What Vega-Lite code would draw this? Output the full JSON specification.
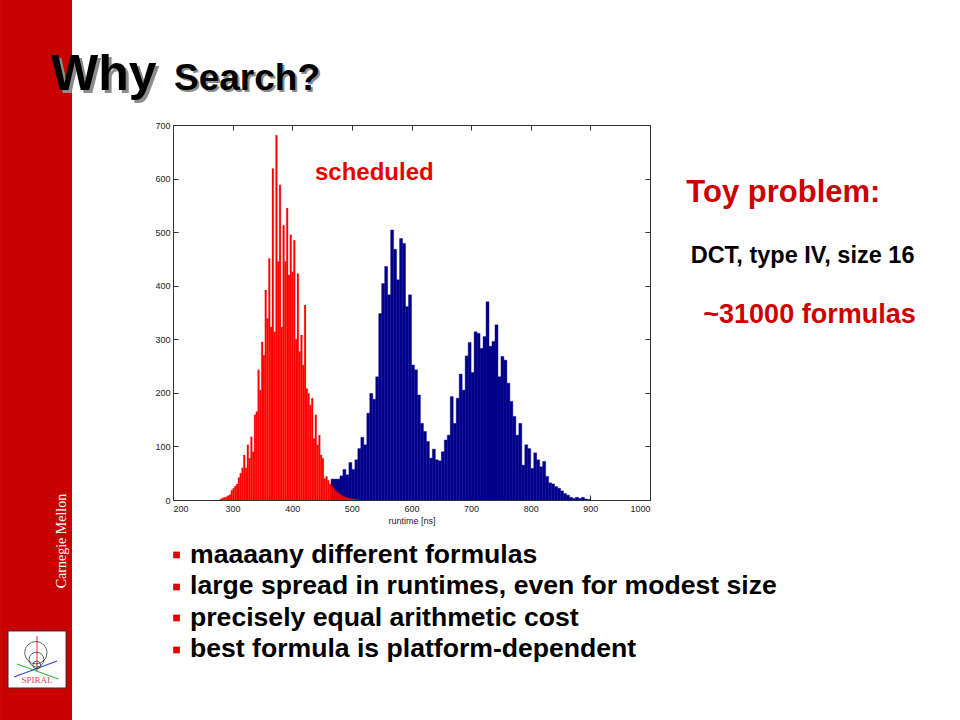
{
  "$schema": "https://vega.github.io/schema/vega-lite/v6.json",
  "width": 477,
  "height": 375,
  "autosize": "none",
  "padding": {"left": 173, "top": 125, "right": 310, "bottom": 220},
  "background": "white",
  "config": {
    "view": {"stroke": "#333333", "strokeWidth": 1},
    "axis": {"labelFont": "Liberation Sans", "labelFontSize": 9, "labelColor": "#222222", "tickColor": "#333333", "domain": false, "grid": false, "tickSize": -5, "titleFont": "Liberation Sans", "titleFontSize": 9, "titleFontWeight": "normal", "titleColor": "#222222"},
    "text": {"font": "Liberation Sans", "fontWeight": "bold", "align": "left", "baseline": "alphabetic"}
  },
  "datasets": {
    "blue": [
      {"lo":465,"hi":470,"n":39},{"lo":470,"hi":475,"n":39},{"lo":475,"hi":480,"n":39},{"lo":480,"hi":485,"n":45},{"lo":485,"hi":490,"n":57},{"lo":490,"hi":495,"n":47},{"lo":495,"hi":500,"n":70},{"lo":500,"hi":505,"n":57},{"lo":505,"hi":510,"n":75},{"lo":510,"hi":515,"n":96},{"lo":515,"hi":520,"n":117},{"lo":520,"hi":525,"n":103},{"lo":525,"hi":530,"n":162},{"lo":530,"hi":535,"n":199},{"lo":535,"hi":540,"n":188},{"lo":540,"hi":545,"n":230},{"lo":545,"hi":550,"n":348},{"lo":550,"hi":555,"n":404},{"lo":555,"hi":560,"n":436},{"lo":560,"hi":565,"n":383},{"lo":565,"hi":570,"n":504},{"lo":570,"hi":575,"n":468},{"lo":575,"hi":580,"n":411},{"lo":580,"hi":585,"n":488},{"lo":585,"hi":590,"n":479},{"lo":590,"hi":595,"n":361},{"lo":595,"hi":600,"n":383},{"lo":600,"hi":605,"n":252},{"lo":605,"hi":610,"n":243},{"lo":610,"hi":615,"n":196},{"lo":615,"hi":620,"n":143},{"lo":620,"hi":625,"n":128},{"lo":625,"hi":630,"n":109},{"lo":630,"hi":635,"n":78},{"lo":635,"hi":640,"n":95},{"lo":640,"hi":645,"n":75},{"lo":645,"hi":650,"n":73},{"lo":650,"hi":655,"n":90},{"lo":655,"hi":660,"n":112},{"lo":660,"hi":665,"n":121},{"lo":665,"hi":670,"n":193},{"lo":670,"hi":675,"n":143},{"lo":675,"hi":680,"n":190},{"lo":680,"hi":685,"n":235},{"lo":685,"hi":690,"n":205},{"lo":690,"hi":695,"n":269},{"lo":695,"hi":700,"n":294},{"lo":700,"hi":705,"n":238},{"lo":705,"hi":710,"n":314},{"lo":710,"hi":715,"n":311},{"lo":715,"hi":720,"n":283},{"lo":720,"hi":725,"n":305},{"lo":725,"hi":730,"n":370},{"lo":730,"hi":735,"n":287},{"lo":735,"hi":740,"n":296},{"lo":740,"hi":745,"n":327},{"lo":745,"hi":750,"n":230},{"lo":750,"hi":755,"n":268},{"lo":755,"hi":760,"n":261},{"lo":760,"hi":765,"n":218},{"lo":765,"hi":770,"n":184},{"lo":770,"hi":775,"n":156},{"lo":775,"hi":780,"n":121},{"lo":780,"hi":785,"n":143},{"lo":785,"hi":790,"n":65},{"lo":790,"hi":795,"n":103},{"lo":795,"hi":800,"n":96},{"lo":800,"hi":805,"n":59},{"lo":805,"hi":810,"n":88},{"lo":810,"hi":815,"n":75},{"lo":815,"hi":820,"n":62},{"lo":820,"hi":825,"n":72},{"lo":825,"hi":830,"n":44},{"lo":830,"hi":835,"n":32},{"lo":835,"hi":840,"n":30},{"lo":840,"hi":845,"n":25},{"lo":845,"hi":850,"n":22},{"lo":850,"hi":855,"n":17},{"lo":855,"hi":860,"n":12},{"lo":860,"hi":865,"n":9},{"lo":865,"hi":870,"n":5},{"lo":870,"hi":875,"n":3},{"lo":875,"hi":880,"n":5},{"lo":880,"hi":885,"n":3},{"lo":885,"hi":890,"n":5},{"lo":890,"hi":895,"n":2},{"lo":895,"hi":900,"n":1}
    ],
    "red": [
      {"lo":279,"hi":282,"n":2},{"lo":282,"hi":285,"n":4},{"lo":285,"hi":288,"n":5},{"lo":288,"hi":291,"n":6},{"lo":291,"hi":294,"n":8},{"lo":294,"hi":297,"n":10},{"lo":297,"hi":300,"n":18},{"lo":300,"hi":303,"n":22},{"lo":303,"hi":306,"n":26},{"lo":306,"hi":309,"n":30},{"lo":309,"hi":312,"n":42},{"lo":312,"hi":315,"n":50},{"lo":315,"hi":318,"n":60},{"lo":318,"hi":321,"n":84},{"lo":321,"hi":324,"n":60},{"lo":324,"hi":327,"n":103},{"lo":327,"hi":330,"n":78},{"lo":330,"hi":333,"n":118},{"lo":333,"hi":336,"n":90},{"lo":336,"hi":339,"n":159},{"lo":339,"hi":342,"n":165},{"lo":342,"hi":345,"n":243},{"lo":345,"hi":348,"n":205},{"lo":348,"hi":351,"n":295},{"lo":351,"hi":354,"n":270},{"lo":354,"hi":357,"n":392},{"lo":357,"hi":360,"n":339},{"lo":360,"hi":363,"n":451},{"lo":363,"hi":366,"n":323},{"lo":366,"hi":369,"n":619},{"lo":369,"hi":372,"n":314},{"lo":372,"hi":375,"n":681},{"lo":375,"hi":378,"n":445},{"lo":378,"hi":381,"n":588},{"lo":381,"hi":384,"n":323},{"lo":384,"hi":387,"n":513},{"lo":387,"hi":390,"n":445},{"lo":390,"hi":393,"n":545},{"lo":393,"hi":396,"n":420},{"lo":396,"hi":399,"n":495},{"lo":399,"hi":402,"n":426},{"lo":402,"hi":405,"n":485},{"lo":405,"hi":408,"n":300},{"lo":408,"hi":411,"n":423},{"lo":411,"hi":414,"n":277},{"lo":414,"hi":417,"n":308},{"lo":417,"hi":420,"n":252},{"lo":420,"hi":423,"n":364},{"lo":423,"hi":426,"n":208},{"lo":426,"hi":429,"n":199},{"lo":429,"hi":432,"n":177},{"lo":432,"hi":435,"n":190},{"lo":435,"hi":438,"n":115},{"lo":438,"hi":441,"n":159},{"lo":441,"hi":444,"n":103},{"lo":444,"hi":447,"n":121},{"lo":447,"hi":450,"n":84},{"lo":450,"hi":453,"n":78},{"lo":453,"hi":456,"n":40},{"lo":456,"hi":459,"n":44},{"lo":459,"hi":462,"n":37},{"lo":462,"hi":465,"n":30},{"lo":465,"hi":468,"n":26},{"lo":468,"hi":471,"n":22},{"lo":471,"hi":474,"n":18},{"lo":474,"hi":477,"n":15},{"lo":477,"hi":480,"n":12},{"lo":480,"hi":483,"n":10},{"lo":483,"hi":486,"n":8},{"lo":486,"hi":489,"n":6},{"lo":489,"hi":492,"n":5},{"lo":492,"hi":495,"n":4},{"lo":495,"hi":498,"n":3},{"lo":498,"hi":501,"n":2},{"lo":501,"hi":504,"n":2},{"lo":504,"hi":507,"n":1},{"lo":507,"hi":510,"n":1}
    ]
  },
  "layer": [
    {
      "data": {"values": [{}]},
      "mark": {"type": "rect", "color": "#c80000"},
      "encoding": {"x": {"datum": -90.1, "axis": null}, "x2": {"datum": 30.6}, "y": {"datum": 933.3, "axis": null}, "y2": {"datum": -410.7}}
    },
    {
      "data": {"values": [{}]},
      "mark": {"type": "text", "text": "Carnegie Mellon", "font": "Liberation Serif", "fontWeight": "normal", "fontSize": 14, "color": "white", "angle": 270, "align": "center", "baseline": "middle"},
      "encoding": {"x": {"datum": 13.8, "axis": null}, "y": {"datum": -76.5, "axis": null}}
    },
    {
      "data": {"values": [{}]},
      "mark": {"type": "rect", "fill": "white", "stroke": "#333333", "strokeWidth": 1},
      "encoding": {"x": {"datum": -76.7, "axis": null}, "x2": {"datum": 20.6}, "y": {"datum": -244.5, "axis": null}, "y2": {"datum": -350.9}}
    },
    {
      "data": {"values": [{}]},
      "mark": {"type": "rule", "color": "#e03040", "strokeWidth": 1},
      "encoding": {"x": {"datum": -28.1, "axis": null}, "y": {"datum": -253.9, "axis": null}, "y2": {"datum": -321.1}}
    },
    {
      "data": {"values": [{}]},
      "mark": {"type": "rule", "color": "#30c040", "strokeWidth": 1.2},
      "encoding": {"x": {"datum": -61.6, "axis": null}, "x2": {"datum": 8.0}, "y": {"datum": -306.1, "axis": null}, "y2": {"datum": -334.1}}
    },
    {
      "data": {"values": [{}]},
      "mark": {"type": "rule", "color": "#3040d0", "strokeWidth": 1.2},
      "encoding": {"x": {"datum": -66.6, "axis": null}, "x2": {"datum": 5.5}, "y": {"datum": -330.4, "axis": null}, "y2": {"datum": -300.5}}
    },
    {
      "data": {"values": [{}]},
      "mark": {"type": "point", "shape": "circle", "filled": false, "color": "#222222", "size": 500, "strokeWidth": 1},
      "encoding": {"x": {"datum": -30.0, "axis": null}, "y": {"datum": -285.0, "axis": null}}
    },
    {
      "data": {"values": [{}]},
      "mark": {"type": "point", "shape": "circle", "filled": false, "color": "#222222", "size": 220, "strokeWidth": 1},
      "encoding": {"x": {"datum": -29.0, "axis": null}, "y": {"datum": -298.0, "axis": null}}
    },
    {
      "data": {"values": [{}]},
      "mark": {"type": "point", "shape": "circle", "filled": false, "color": "#222222", "size": 60, "strokeWidth": 1},
      "encoding": {"x": {"datum": -28.5, "axis": null}, "y": {"datum": -308.0, "axis": null}}
    },
    {
      "data": {"values": [{}]},
      "mark": {"type": "text", "text": "SPIRAL", "font": "Liberation Serif", "fontWeight": "normal", "fontSize": 9, "color": "#e0405a", "align": "center"},
      "encoding": {"x": {"datum": -28.1, "axis": null}, "y": {"datum": -341.6, "axis": null}}
    },
    {
      "data": {"name": "blue"},
      "mark": {"type": "bar", "color": "#00008b", "stroke": "#00008b", "strokeWidth": 0.4},
      "encoding": {
        "x": {"field": "lo", "type": "quantitative", "scale": {"domain": [200, 1000], "nice": false, "zero": false}, "axis": {"orient": "bottom", "values": [200,300,400,500,600,700,800,900,1000], "format": "d", "title": "runtime [ns]", "labelPadding": 9, "titlePadding": 3}},
        "x2": {"field": "hi"},
        "y": {"field": "n", "type": "quantitative", "scale": {"domain": [0, 700], "nice": false}, "axis": {"orient": "left", "values": [0,100,200,300,400,500,600,700], "format": "d", "title": null, "labelPadding": 8}},
        "y2": {"datum": 0}
      }
    },
    {
      "data": {"name": "red"},
      "mark": {"type": "bar", "color": "#ff0000", "stroke": "#ff0000", "strokeWidth": 0.2},
      "encoding": {
        "x": {"field": "lo", "type": "quantitative", "axis": {"orient": "top", "values": [200,300,400,500,600,700,800,900,1000], "labels": false, "title": null}},
        "x2": {"field": "hi"},
        "y": {"field": "n", "type": "quantitative", "axis": {"orient": "right", "values": [0,100,200,300,400,500,600,700], "labels": false, "title": null}},
        "y2": {"datum": 0}
      }
    },
    {
      "data": {"values": [{}]},
      "mark": {"type": "text", "text": "scheduled", "fontSize": 24, "color": "#e60000"},
      "encoding": {"x": {"datum": 438.1, "axis": null}, "y": {"datum": 597.3, "axis": null}}
    },
    {
      "data": {"values": [{}]},
      "mark": {"type": "text", "text": "Why", "fontSize": 50, "color": "#8c8c8c", "dx": 3, "dy": 3},
      "encoding": {"x": {"datum": -4.6, "axis": null}, "y": {"datum": 765.3, "axis": null}}
    },
    {
      "data": {"values": [{}]},
      "mark": {"type": "text", "text": "Why", "fontSize": 50, "color": "#000000"},
      "encoding": {"x": {"datum": -4.6, "axis": null}, "y": {"datum": 765.3, "axis": null}}
    },
    {
      "data": {"values": [{}]},
      "mark": {"type": "text", "text": "Search?", "fontSize": 37, "color": "#8c8c8c", "dx": 2, "dy": 2},
      "encoding": {"x": {"datum": 201.7, "axis": null}, "y": {"datum": 765.3, "axis": null}}
    },
    {
      "data": {"values": [{}]},
      "mark": {"type": "text", "text": "Search?", "fontSize": 37, "color": "#000000"},
      "encoding": {"x": {"datum": 201.7, "axis": null}, "y": {"datum": 765.3, "axis": null}}
    },
    {
      "data": {"values": [{}]},
      "mark": {"type": "text", "text": "Toy problem:", "fontSize": 31, "color": "#cc0000"},
      "encoding": {"x": {"datum": 1061.0, "axis": null}, "y": {"datum": 556.8, "axis": null}}
    },
    {
      "data": {"values": [{}]},
      "mark": {"type": "text", "text": "DCT, type IV, size 16", "fontSize": 23.5, "color": "#000000"},
      "encoding": {"x": {"datum": 1068.2, "axis": null}, "y": {"datum": 442.0, "axis": null}}
    },
    {
      "data": {"values": [{}]},
      "mark": {"type": "text", "text": "~31000 formulas", "fontSize": 27, "color": "#cc0000"},
      "encoding": {"x": {"datum": 1089.4, "axis": null}, "y": {"datum": 331.0, "axis": null}}
    },
    {
      "data": {"values": [{}]},
      "mark": {"type": "point", "shape": "square", "filled": true, "color": "#e00000", "size": 45, "opacity": 1},
      "encoding": {"x": {"datum": 205.9, "axis": null}, "y": {"datum": -102.6, "axis": null}}
    },
    {
      "data": {"values": [{}]},
      "mark": {"type": "point", "shape": "square", "filled": true, "color": "#e00000", "size": 45, "opacity": 1},
      "encoding": {"x": {"datum": 205.9, "axis": null}, "y": {"datum": -162.4, "axis": null}}
    },
    {
      "data": {"values": [{}]},
      "mark": {"type": "point", "shape": "square", "filled": true, "color": "#e00000", "size": 45, "opacity": 1},
      "encoding": {"x": {"datum": 205.9, "axis": null}, "y": {"datum": -220.2, "axis": null}}
    },
    {
      "data": {"values": [{}]},
      "mark": {"type": "point", "shape": "square", "filled": true, "color": "#e00000", "size": 45, "opacity": 1},
      "encoding": {"x": {"datum": 205.9, "axis": null}, "y": {"datum": -280.0, "axis": null}}
    },
    {
      "data": {"values": [{}]},
      "mark": {"type": "text", "text": "maaaany different formulas", "fontSize": 26.6, "color": "#000000"},
      "encoding": {"x": {"datum": 228.5, "axis": null}, "y": {"datum": -117.6, "axis": null}}
    },
    {
      "data": {"values": [{}]},
      "mark": {"type": "text", "text": "large spread in runtimes, even for modest size", "fontSize": 26.6, "color": "#000000"},
      "encoding": {"x": {"datum": 228.5, "axis": null}, "y": {"datum": -175.4, "axis": null}}
    },
    {
      "data": {"values": [{}]},
      "mark": {"type": "text", "text": "precisely equal arithmetic cost", "fontSize": 26.6, "color": "#000000"},
      "encoding": {"x": {"datum": 228.5, "axis": null}, "y": {"datum": -235.2, "axis": null}}
    },
    {
      "data": {"values": [{}]},
      "mark": {"type": "text", "text": "best formula is platform-dependent", "fontSize": 26.6, "color": "#000000"},
      "encoding": {"x": {"datum": 228.5, "axis": null}, "y": {"datum": -293.0, "axis": null}}
    }
  ]
}
